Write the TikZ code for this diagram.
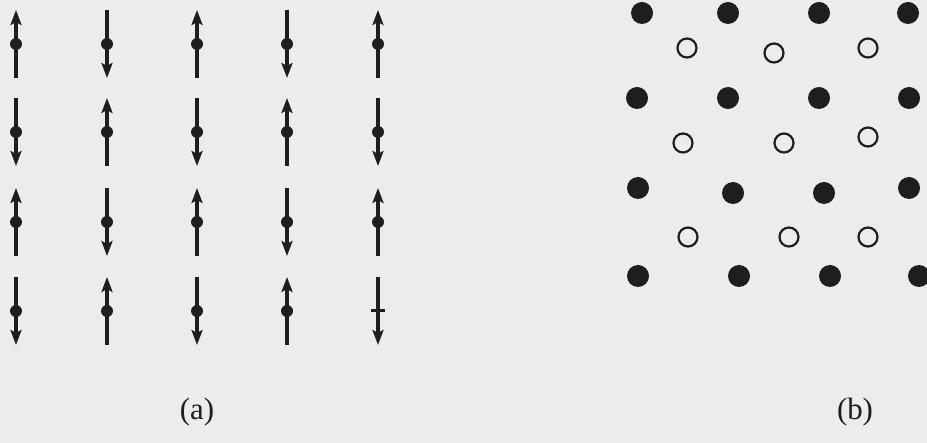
\documentclass[tikz,border=0pt]{standalone}
\usepackage{fontspec}
\setmainfont{Liberation Serif}
\usetikzlibrary{arrows.meta}
\definecolor{paper}{RGB}{236,236,236}
\definecolor{ink}{RGB}{30,30,30}
\tikzset{
  spin/.style={draw=ink, line width=3.5bp, -{Stealth[length=15bp,width=11bp,inset=3bp]}},
  site/.style={circle, fill=ink, inner sep=0pt, minimum size=12bp},
  tick/.style={draw=ink, line width=3bp},
  atomA/.style={circle, fill=ink, inner sep=0pt, minimum size=22bp},
  atomB/.style={circle, draw=ink, line width=2.2bp, fill=paper, inner sep=0pt, minimum size=19bp},
  caption/.style={font=\fontsize{31}{36}\selectfont, text=ink, inner sep=0pt}
}
\begin{document}
\begin{tikzpicture}[x=1bp,y=-1bp]
\fill[paper] (0,0) rectangle (927,443);
\useasboundingbox (0,0) rectangle (927,443);
% panel (a): spins
\foreach \c/\x in {1/16,2/107,3/197,4/287,5/378}{
  \foreach \r/\y in {1/44,2/132,3/222,4/311}{
    \coordinate (top\r\c) at (\x,\y-34);
    \coordinate (bot\r\c) at (\x,\y+34);
    \pgfmathtruncatemacro{\myparity}{mod(\r+\c,2)}
    \ifnum\myparity=0
      \draw[spin] (bot\r\c) -- (top\r\c);
    \else
      \draw[spin] (top\r\c) -- (bot\r\c);
    \fi
    \ifnum\r\c=45
      \coordinate (mid\r\c) at (\x,\y);
      \draw[tick] ([xshift=-7bp]mid\r\c) -- ([xshift=7bp]mid\r\c);
    \else
      \node[site] (mid\r\c) at (\x,\y) {};
    \fi
  }
}
% panel (b): lattice
\node[atomA] (f11) at (642,13) {};
\node[atomA] (f12) at (728,13) {};
\node[atomA] (f13) at (819,13) {};
\node[atomA] (f14) at (908,13) {};
\node[atomB] (o11) at (687,48) {};
\node[atomB] (o12) at (774,53) {};
\node[atomB] (o13) at (868,48) {};
\node[atomA] (f21) at (637,98) {};
\node[atomA] (f22) at (728,98) {};
\node[atomA] (f23) at (819,98) {};
\node[atomA] (f24) at (909,98) {};
\node[atomB] (o21) at (683,143) {};
\node[atomB] (o22) at (784,143) {};
\node[atomB] (o23) at (868,137) {};
\node[atomA] (f31) at (638,188) {};
\node[atomA] (f32) at (733,193) {};
\node[atomA] (f33) at (824,193) {};
\node[atomA] (f34) at (909,188) {};
\node[atomB] (o31) at (688,237) {};
\node[atomB] (o32) at (789,237) {};
\node[atomB] (o33) at (868,237) {};
\node[atomA] (f41) at (638,276) {};
\node[atomA] (f42) at (739,276) {};
\node[atomA] (f43) at (830,276) {};
\node[atomA] (f44) at (919,276) {};
% captions
\node[caption] (capa) at (197,412) {(a)};
\node[caption] (capb) at (855,412) {(b)};
\end{tikzpicture}
\end{document}
